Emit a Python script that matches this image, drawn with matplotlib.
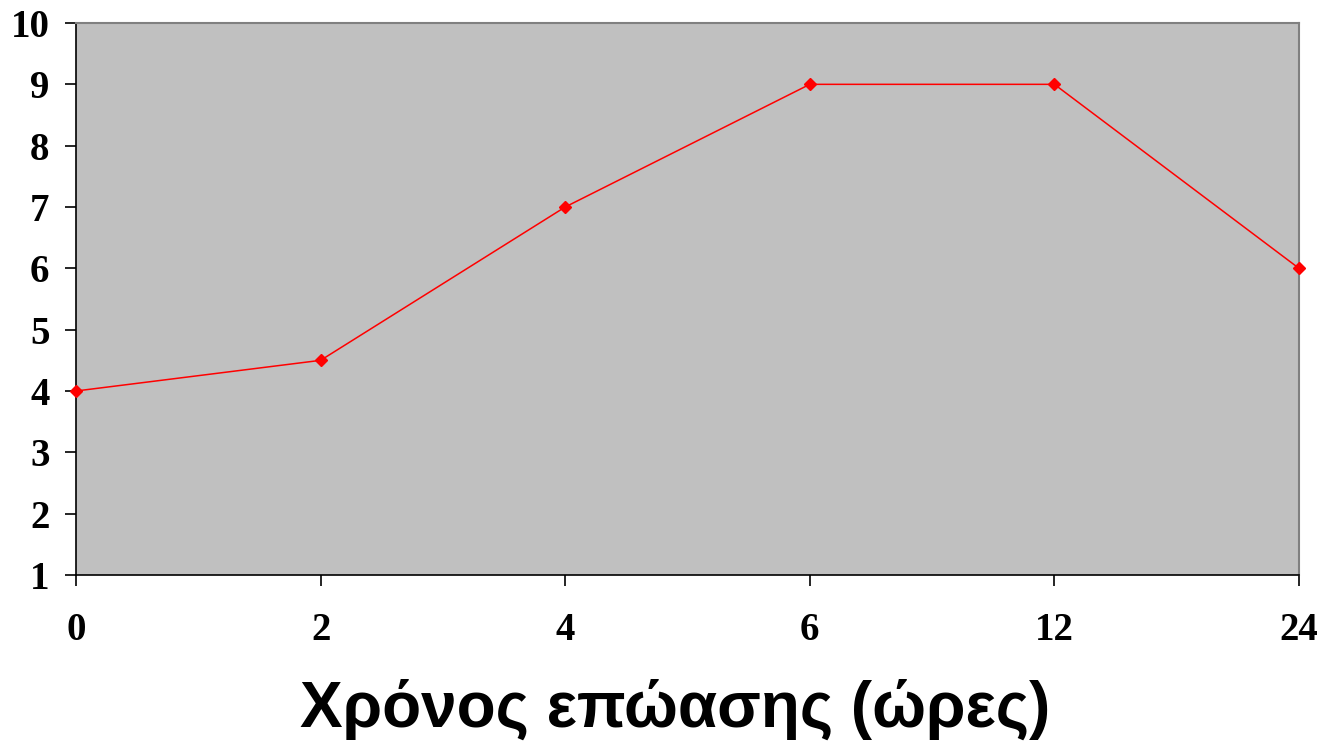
"""Incubation time line chart."""

import matplotlib
matplotlib.use('Agg')
import matplotlib.pyplot as plt

hours = ['0', '2', '4', '6', '12', '24']
values = [4, 4.5, 7, 9, 9, 6]

fig = plt.figure(figsize=(13.21, 7.41), dpi=100)
ax = fig.add_axes([76 / 1321, 166 / 741, (1299 - 76) / 1321, (575 - 23) / 741])
ax.set_facecolor('#C0C0C0')

pos = list(range(len(hours)))
ax.plot(pos, values, color='#FF0000', linewidth=1.1,
        marker='D', markersize=6.5, markerfacecolor='#FF0000',
        markeredgecolor='#FF0000', clip_on=False, zorder=3)

ax.set_xlim(0, len(hours) - 1)
ax.set_ylim(1, 10)
ax.set_xticks(pos)
ax.set_xticklabels(hours)
ax.set_yticks(range(1, 11))

for s in ['top', 'right']:
    ax.spines[s].set_color('#808080')
    ax.spines[s].set_linewidth(1.5)
for s in ['left', 'bottom']:
    ax.spines[s].set_color('black')
    ax.spines[s].set_linewidth(1.2)

ax.tick_params(axis='both', direction='out', length=8, width=1.2, color='black')
ax.tick_params(axis='y', pad=11)
ax.tick_params(axis='x', pad=19)
for lbl in ax.get_xticklabels() + ax.get_yticklabels():
    lbl.set_fontfamily('Liberation Serif')
    lbl.set_fontweight('bold')
    lbl.set_fontsize(28)

ax.set_xlabel('Χρόνος επώασης (ώρες)', fontfamily='Liberation Sans',
              fontweight='bold', fontsize=46, labelpad=21)
ax.xaxis.label.set_x(0.49)

fig.savefig('out.png', dpi=100)
